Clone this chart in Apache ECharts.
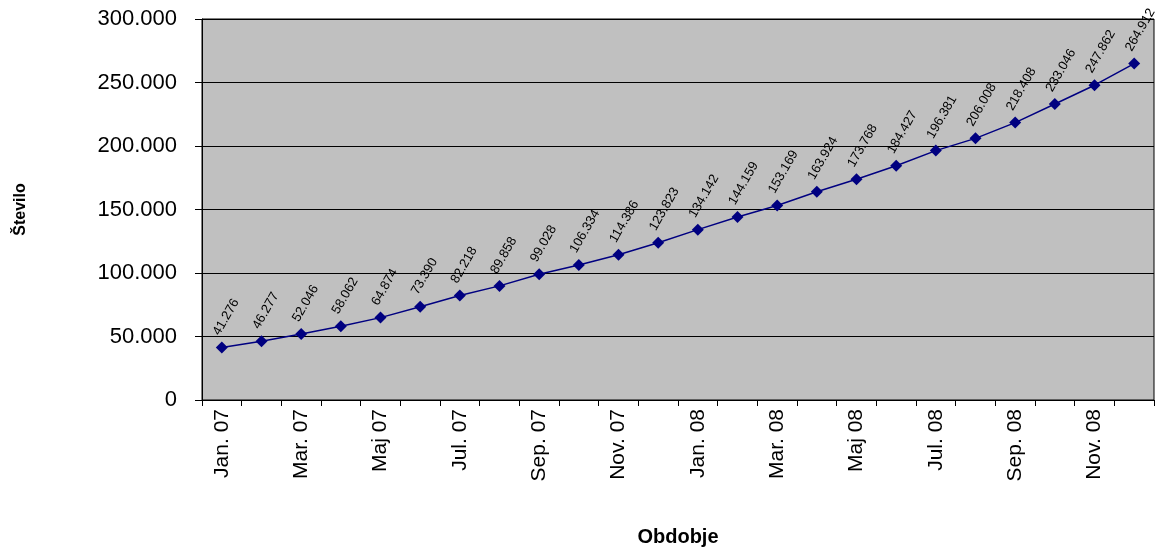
<!DOCTYPE html>
<html>
<head>
<meta charset="utf-8">
<script src="https://cdn.jsdelivr.net/npm/echarts@6/dist/echarts.min.js"></script>
<style>html,body{margin:0;padding:0;background:#fff}#c{width:1155px;height:549px}</style>
</head>
<body>
<div id="c"></div>
<script>
const categories = ['Jan. 07','Feb. 07','Mar. 07','Apr. 07','Maj 07','Jun. 07','Jul. 07','Avg. 07','Sep. 07','Okt. 07','Nov. 07','Dec. 07',
  'Jan. 08','Feb. 08','Mar. 08','Apr. 08','Maj 08','Jun. 08','Jul. 08','Avg. 08','Sep. 08','Okt. 08','Nov. 08','Dec. 08'];
const values = [41276,46277,52046,58062,64874,73390,82218,89858,99028,106334,114386,123823,
  134142,144159,153169,163924,173768,184427,196381,206008,218408,233046,247862,264912];
const yTicks = [0,50000,100000,150000,200000,250000,300000];

function fmt(v){ return String(v).replace(/\B(?=(\d{3})+(?!\d))/g,'.'); }

const chart = echarts.init(document.getElementById('c'));
chart.setOption({
  animation:false,
  backgroundColor:'#ffffff',
  grid:{left:202,right:1,top:19,bottom:149,outerBoundsMode:'none',containLabel:false,
    show:true,backgroundColor:'#C0C0C0',borderColor:'#000',borderWidth:1},
  xAxis:{
    type:'category',data:categories,boundaryGap:true,
    name:'Obdobje',nameLocation:'middle',nameGap:127,
    nameTextStyle:{fontFamily:'Liberation Sans, Arial',fontWeight:'bold',fontSize:20,color:'#000'},
    axisLine:{lineStyle:{color:'#000',width:1}},
    axisTick:{show:true,interval:0,alignWithLabel:false,length:6,lineStyle:{color:'#000'}},
    axisLabel:{interval:1,rotate:90,margin:9,fontFamily:'Liberation Sans, Arial',fontSize:21,color:'#000'},
    splitLine:{show:false}
  },
  yAxis:{
    type:'value',min:0,max:300000,interval:50000,
    name:'Število',nameLocation:'middle',nameGap:173,nameRotate:90,
    nameTextStyle:{fontFamily:'Liberation Sans, Arial',fontWeight:'bold',fontSize:16,color:'#000'},
    axisLine:{show:true,lineStyle:{color:'#000',width:1}},
    axisTick:{show:true,length:7,inside:false,lineStyle:{color:'#000'}},
    axisLabel:{margin:25,fontFamily:'Liberation Sans, Arial',fontSize:22,color:'#000',
      formatter:function(v){return yTicks.indexOf(v)>=0?fmt(v):'';}},
    splitLine:{show:true,lineStyle:{color:'#000',width:1}}
  },
  series:[{
    type:'line',data:values,
    symbol:'diamond',symbolSize:12,
    lineStyle:{color:'#000080',width:1.5},
    itemStyle:{color:'#000080'},
    label:{show:true,position:'top',distance:4,rotate:60,align:'left',verticalAlign:'bottom',
      fontFamily:'Liberation Sans, Arial',fontSize:13,color:'#000',
      formatter:function(p){return fmt(p.value);}}
  }]
});
</script>
</body>
</html>
